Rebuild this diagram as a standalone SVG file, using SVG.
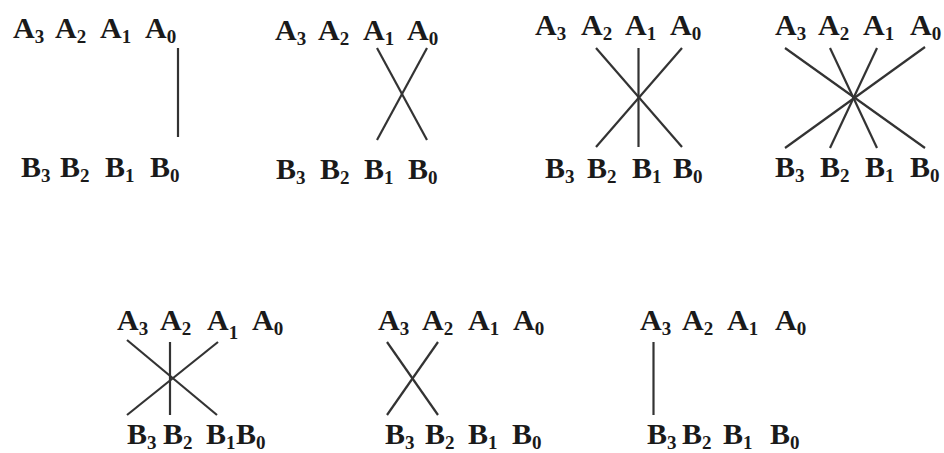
<svg xmlns="http://www.w3.org/2000/svg" width="944" height="453" viewBox="0 0 944 453">
<style>
.t text{font-family:'Liberation Serif','Times New Roman',Times,serif;font-size:30px;font-weight:bold;fill:#1a1a1a}
.t .s{font-size:19px}
.c line{stroke:#333;stroke-width:2.2;stroke-linecap:butt}
</style>
<rect width="944" height="453" fill="#fff"/>
<g class="t" font-family="Liberation Serif, serif">
<g id="d1">
<g id="d1-a"><text x="13" y="38">A<tspan class="s" dy="5">3</tspan></text><text x="55" y="38">A<tspan class="s" dy="5">2</tspan></text><text x="100" y="38">A<tspan class="s" dy="5">1</tspan></text><text x="145" y="38">A<tspan class="s" dy="5">0</tspan></text></g>
<g id="d1-b"><text x="21" y="177">B<tspan class="s" dy="5">3</tspan></text><text x="60" y="177">B<tspan class="s" dy="5">2</tspan></text><text x="105" y="177">B<tspan class="s" dy="5">1</tspan></text><text x="150" y="177">B<tspan class="s" dy="5">0</tspan></text></g>
</g>
<g id="d2">
<g id="d2-a"><text x="275" y="40">A<tspan class="s" dy="5">3</tspan></text><text x="318" y="40">A<tspan class="s" dy="5">2</tspan></text><text x="363" y="40">A<tspan class="s" dy="5">1</tspan></text><text x="407" y="40">A<tspan class="s" dy="5">0</tspan></text></g>
<g id="d2-b"><text x="276" y="179">B<tspan class="s" dy="5">3</tspan></text><text x="320" y="179">B<tspan class="s" dy="5">2</tspan></text><text x="364" y="179">B<tspan class="s" dy="5">1</tspan></text><text x="408" y="179">B<tspan class="s" dy="5">0</tspan></text></g>
</g>
<g id="d3">
<g id="d3-a"><text x="535" y="35">A<tspan class="s" dy="5">3</tspan></text><text x="581" y="35">A<tspan class="s" dy="5">2</tspan></text><text x="625" y="35">A<tspan class="s" dy="5">1</tspan></text><text x="670" y="35">A<tspan class="s" dy="5">0</tspan></text></g>
<g id="d3-b"><text x="545" y="178">B<tspan class="s" dy="5">3</tspan></text><text x="587" y="178">B<tspan class="s" dy="5">2</tspan></text><text x="632" y="178">B<tspan class="s" dy="5">1</tspan></text><text x="673" y="178">B<tspan class="s" dy="5">0</tspan></text></g>
</g>
<g id="d4">
<g id="d4-a"><text x="775" y="35">A<tspan class="s" dy="5">3</tspan></text><text x="818" y="35">A<tspan class="s" dy="5">2</tspan></text><text x="863" y="35">A<tspan class="s" dy="5">1</tspan></text><text x="910" y="35">A<tspan class="s" dy="5">0</tspan></text></g>
<g id="d4-b"><text x="775" y="177">B<tspan class="s" dy="5">3</tspan></text><text x="820" y="177">B<tspan class="s" dy="5">2</tspan></text><text x="865" y="177">B<tspan class="s" dy="5">1</tspan></text><text x="910" y="177">B<tspan class="s" dy="5">0</tspan></text></g>
</g>
<g id="d5">
<g id="d5-a"><text x="117" y="330">A<tspan class="s" dy="5">3</tspan></text><text x="160" y="330">A<tspan class="s" dy="5">2</tspan></text><text x="207" y="330">A<tspan class="s" dy="9">1</tspan></text><text x="252" y="330">A<tspan class="s" dy="5">0</tspan></text></g>
<g id="d5-b"><text x="127" y="444">B<tspan class="s" dy="5">3</tspan></text><text x="163" y="444">B<tspan class="s" dy="5">2</tspan></text><text x="206" y="444">B<tspan class="s" dy="5">1</tspan></text><text x="236" y="444">B<tspan class="s" dy="5">0</tspan></text></g>
</g>
<g id="d6">
<g id="d6-a"><text x="378" y="330">A<tspan class="s" dy="5">3</tspan></text><text x="422" y="330">A<tspan class="s" dy="5">2</tspan></text><text x="468" y="330">A<tspan class="s" dy="5">1</tspan></text><text x="513" y="330">A<tspan class="s" dy="5">0</tspan></text></g>
<g id="d6-b"><text x="385" y="444">B<tspan class="s" dy="5">3</tspan></text><text x="425" y="444">B<tspan class="s" dy="5">2</tspan></text><text x="468" y="444">B<tspan class="s" dy="5">1</tspan></text><text x="512" y="444">B<tspan class="s" dy="5">0</tspan></text></g>
</g>
<g id="d7">
<g id="d7-a"><text x="640" y="330">A<tspan class="s" dy="5">3</tspan></text><text x="682" y="330">A<tspan class="s" dy="5">2</tspan></text><text x="727" y="330">A<tspan class="s" dy="5">1</tspan></text><text x="775" y="330">A<tspan class="s" dy="5">0</tspan></text></g>
<g id="d7-b"><text x="647" y="444">B<tspan class="s" dy="5">3</tspan></text><text x="682" y="444">B<tspan class="s" dy="5">2</tspan></text><text x="723" y="444">B<tspan class="s" dy="5">1</tspan></text><text x="770" y="444">B<tspan class="s" dy="5">0</tspan></text></g>
</g>
</g>
<g id="connectors" class="c">
<line x1="178" y1="48" x2="178" y2="137"/>
<line x1="377" y1="48" x2="427" y2="140"/>
<line x1="427" y1="48" x2="377" y2="140"/>
<line x1="638.5" y1="48" x2="638.5" y2="147"/>
<line x1="596" y1="48" x2="682" y2="147"/>
<line x1="682" y1="48" x2="596" y2="147"/>
<line x1="785" y1="48" x2="925" y2="148"/>
<line x1="925" y1="47" x2="785" y2="148"/>
<line x1="830" y1="48" x2="877" y2="148"/>
<line x1="877" y1="48" x2="830" y2="148"/>
<line x1="170" y1="342" x2="170" y2="415"/>
<line x1="127" y1="340" x2="217" y2="415"/>
<line x1="218" y1="342" x2="127" y2="415"/>
<line x1="387" y1="342" x2="438" y2="415"/>
<line x1="438" y1="342" x2="387" y2="415"/>
<line x1="653.5" y1="342" x2="653.5" y2="415"/>
</g>
</svg>
